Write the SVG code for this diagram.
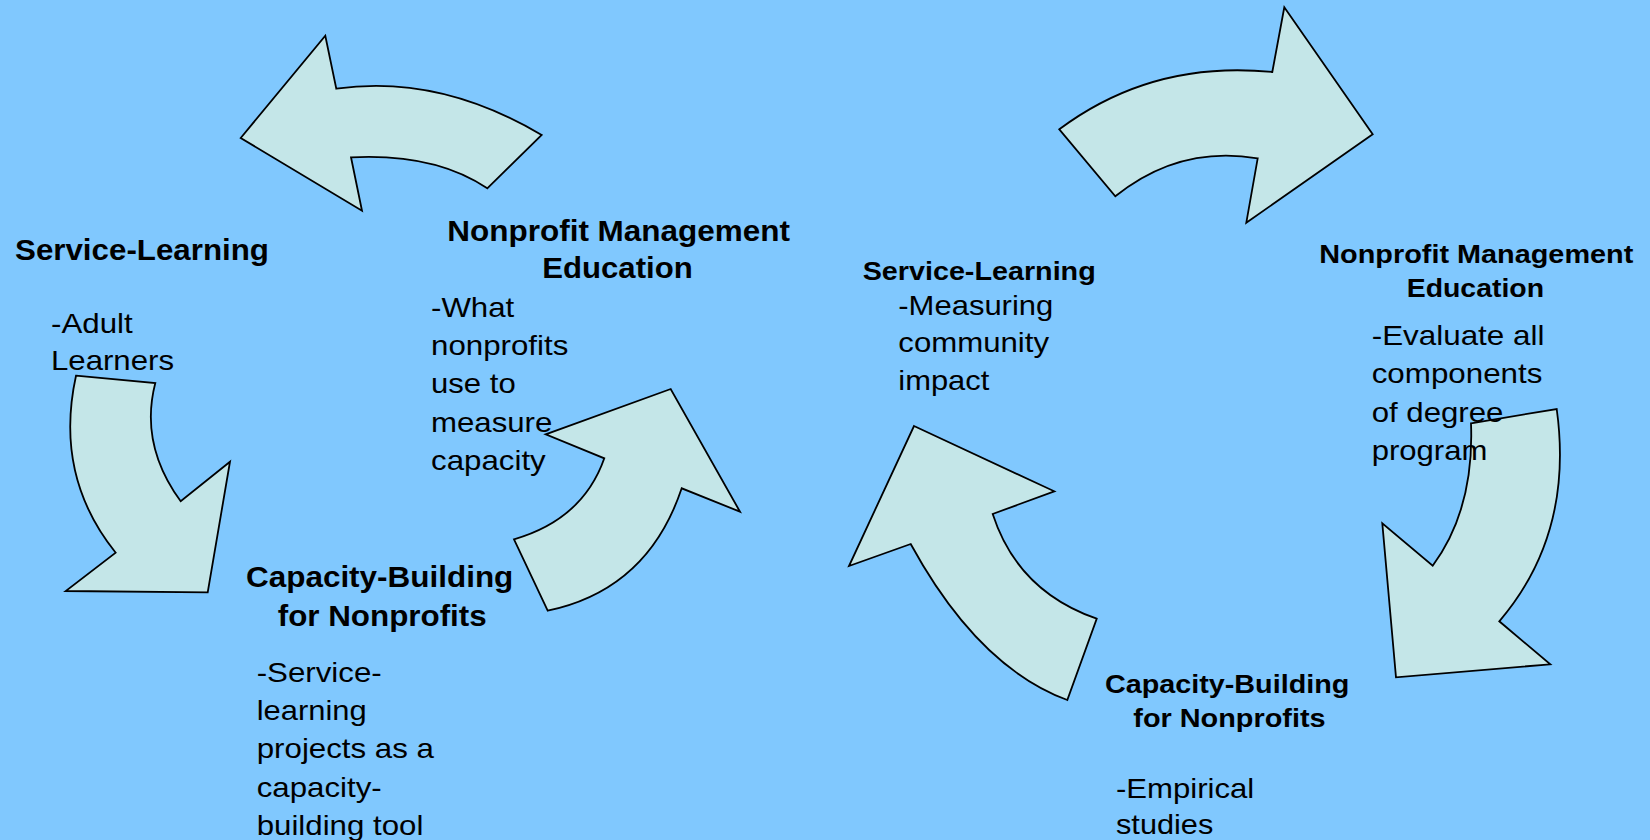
<svg xmlns="http://www.w3.org/2000/svg" width="1650" height="840" viewBox="0 0 1650 840">
<style>
.arrow{fill:#C4E6E8;stroke:#000;stroke-width:1.8;stroke-linejoin:miter}
.h{font-family:"Liberation Sans",Arial,sans-serif;font-weight:bold;fill:#000}
.h1{font-size:29px}
.h2{font-size:26.5px}
.t{font-family:"Liberation Sans",Arial,sans-serif;font-size:28px;fill:#000}
</style>
<rect x="0" y="0" width="1650" height="840" fill="#80C8FE"/>
<g id="connectors">
<path class="arrow" d="M240.7,138 L325.3,35.7 L336.3,88.7 Q439,74 541.7,135 L487.3,188.3 Q435,153 351,157.3 L362,210.7 Z"/>
<path class="arrow" d="M76,375.7 L155.3,383 Q139.3,444.6 180.7,501.3 L230,461.7 L207.7,592.3 L65.7,591 L115.7,552.7 Q54,476 76,375.7 Z"/>
<path class="arrow" d="M547.7,610.7 L514,539.3 Q583,519.3 604.3,458.3 L545.7,434.3 L670.7,389 L740,511.7 L681.7,488.3 Q647.7,589.7 547.7,610.7 Z"/>
<path class="arrow" d="M1059.3,129.3 Q1152,60 1272.3,72 L1284.3,7.3 L1372.7,134.3 L1246.3,222.7 L1257.7,158.3 Q1179,145 1115.3,196.3 Z"/>
<path class="arrow" d="M1471,423.3 L1556.7,409 Q1574,534 1499.3,621.3 L1550.3,664.3 L1396,677.3 L1382.3,523.3 L1432.7,565.7 Q1474.4,509.2 1471,423.3 Z"/>
<path class="arrow" d="M914,426 L1054.3,491.3 L992.7,514 Q1017.6,591.1 1096.7,618.7 L1067.3,700 Q977.9,666.9 910.7,544 L849,566 Z"/>
</g>
<g id="node-service-learning-left">
<text class="h h1" x="15" y="260" textLength="254" lengthAdjust="spacingAndGlyphs">Service-Learning</text>
<text class="t" x="51" y="333.3" textLength="81.7" lengthAdjust="spacingAndGlyphs">-Adult</text>
<text class="t" x="51" y="370" textLength="123" lengthAdjust="spacingAndGlyphs">Learners</text>
</g>
<g id="node-nme-left">
<text class="h h1" x="447.3" y="241" textLength="342.7" lengthAdjust="spacingAndGlyphs">Nonprofit Management</text>
<text class="h h1" x="542.3" y="277.7" textLength="150.4" lengthAdjust="spacingAndGlyphs">Education</text>
<text class="t" x="431" y="316.7" textLength="83.3" lengthAdjust="spacingAndGlyphs">-What</text>
<text class="t" x="431" y="355" textLength="137.3" lengthAdjust="spacingAndGlyphs">nonprofits</text>
<text class="t" x="431" y="393.3" textLength="84.7" lengthAdjust="spacingAndGlyphs">use to</text>
<text class="t" x="431" y="431.7" textLength="121.3" lengthAdjust="spacingAndGlyphs">measure</text>
<text class="t" x="431" y="470" textLength="114.7" lengthAdjust="spacingAndGlyphs">capacity</text>
</g>
<g id="node-cb-left">
<text class="h h1" x="246" y="587.3" textLength="267.3" lengthAdjust="spacingAndGlyphs">Capacity-Building</text>
<text class="h h1" x="277.7" y="625.7" textLength="209" lengthAdjust="spacingAndGlyphs">for Nonprofits</text>
<text class="t" x="256.7" y="681.7" textLength="125" lengthAdjust="spacingAndGlyphs">-Service-</text>
<text class="t" x="256.7" y="720" textLength="110" lengthAdjust="spacingAndGlyphs">learning</text>
<text class="t" x="256.7" y="758.3" textLength="177.3" lengthAdjust="spacingAndGlyphs">projects as a</text>
<text class="t" x="256.7" y="796.7" textLength="125" lengthAdjust="spacingAndGlyphs">capacity-</text>
<text class="t" x="256.7" y="835" textLength="166.7" lengthAdjust="spacingAndGlyphs">building tool</text>
</g>
<g id="node-service-learning-right">
<text class="h h2" x="862.7" y="280" textLength="233" lengthAdjust="spacingAndGlyphs">Service-Learning</text>
<text class="t" x="898.3" y="315" textLength="155" lengthAdjust="spacingAndGlyphs">-Measuring</text>
<text class="t" x="898.3" y="351.7" textLength="150.7" lengthAdjust="spacingAndGlyphs">community</text>
<text class="t" x="898.3" y="390" textLength="91" lengthAdjust="spacingAndGlyphs">impact</text>
</g>
<g id="node-nme-right">
<text class="h h2" x="1319.3" y="263.3" textLength="314" lengthAdjust="spacingAndGlyphs">Nonprofit Management</text>
<text class="h h2" x="1406.7" y="296.7" textLength="137.3" lengthAdjust="spacingAndGlyphs">Education</text>
<text class="t" x="1371.7" y="345" textLength="172.7" lengthAdjust="spacingAndGlyphs">-Evaluate all</text>
<text class="t" x="1371.7" y="383" textLength="170.7" lengthAdjust="spacingAndGlyphs">components</text>
<text class="t" x="1371.7" y="421.5" textLength="131.7" lengthAdjust="spacingAndGlyphs">of degree</text>
<text class="t" x="1371.7" y="460" textLength="115.7" lengthAdjust="spacingAndGlyphs">program</text>
</g>
<g id="node-cb-right">
<text class="h h2" x="1105" y="693.3" textLength="244.3" lengthAdjust="spacingAndGlyphs">Capacity-Building</text>
<text class="h h2" x="1133.3" y="726.7" textLength="192.3" lengthAdjust="spacingAndGlyphs">for Nonprofits</text>
<text class="t" x="1116" y="797.7" textLength="138.3" lengthAdjust="spacingAndGlyphs">-Empirical</text>
<text class="t" x="1116" y="834.3" textLength="97.3" lengthAdjust="spacingAndGlyphs">studies</text>
</g>
</svg>
